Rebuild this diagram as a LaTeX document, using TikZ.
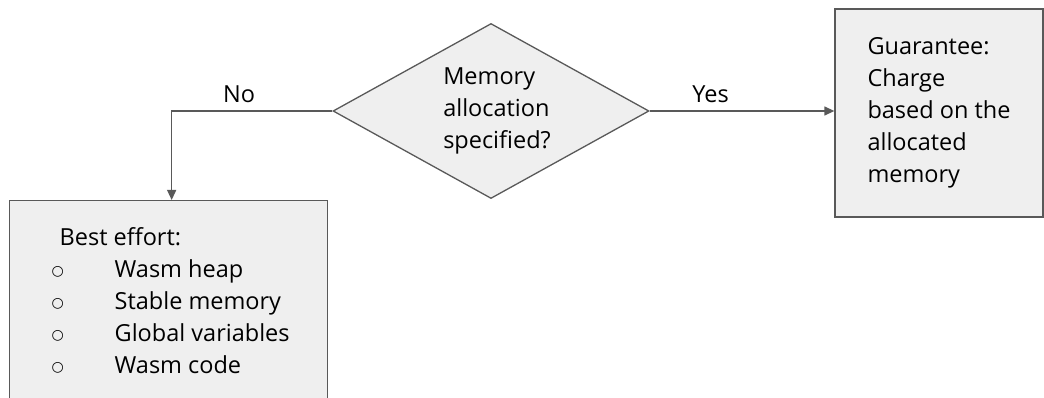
\documentclass[tikz,border=0pt]{standalone}
\usepackage{fontspec}
\setmainfont{Open Sans}
\newfontfamily\symfont{DejaVu Sans}
\usetikzlibrary{shapes.geometric,arrows.meta}
\definecolor{linegray}{HTML}{595959}
\definecolor{boxgray}{HTML}{EFEFEF}
\newcommand{\bul}{\raisebox{2.5pt}{\symfont\fontsize{14}{32}\selectfont ○}}
\newcommand{\listentry}[1]{\makebox[63pt][l]{\bul}#1}
\newcommand{\ind}{\hspace*{12pt}}
\begin{document}
\begin{tikzpicture}[x=1pt,y=-1pt,
  font=\fontsize{23.5}{32}\selectfont,
  box/.style={draw=linegray, fill=boxgray, line width=1.3pt},
  conn/.style={draw=linegray, line width=1.3pt, -{Triangle[length=10pt,width=9pt]}},
  lbl/.style={inner sep=0pt}]
\useasboundingbox (0,0) rectangle (1044,398);
\clip (0,0) rectangle (1044,398);

% decision
\node[box, diamond, aspect=1.8, minimum width=316pt, minimum height=175pt, inner sep=0pt, align=left]
  (dec) at (491,111) {\ind Memory\\\ind allocation\\\ind specified?};

% outcome when an allocation is given
\node[box, minimum width=208pt, minimum height=208pt, align=left]
  (gua) at (939,113) {Guarantee:\\Charge\\based on the\\allocated\\memory};

% outcome when nothing is given
\node[box, anchor=north west, minimum width=318pt, minimum height=200pt, align=left]
  (best) at (9,200) {\hspace*{12pt}Best effort:\\
    \hspace*{4pt}\listentry{Wasm heap}\\
    \hspace*{4pt}\listentry{Stable memory}\\
    \hspace*{4pt}\listentry{Global variables}\\
    \hspace*{4pt}\listentry{Wasm code}};

% connectors
\draw[conn] (dec.east) -- (dec.east -| gua.west)
  node[lbl, pos=0.33, above=8pt] (yes) {Yes};
\draw[conn] (dec.west) -| ([xshift=3pt]best.north)
  node[lbl, pos=0.29, above=8pt] (no) {No};
\end{tikzpicture}
\end{document}
